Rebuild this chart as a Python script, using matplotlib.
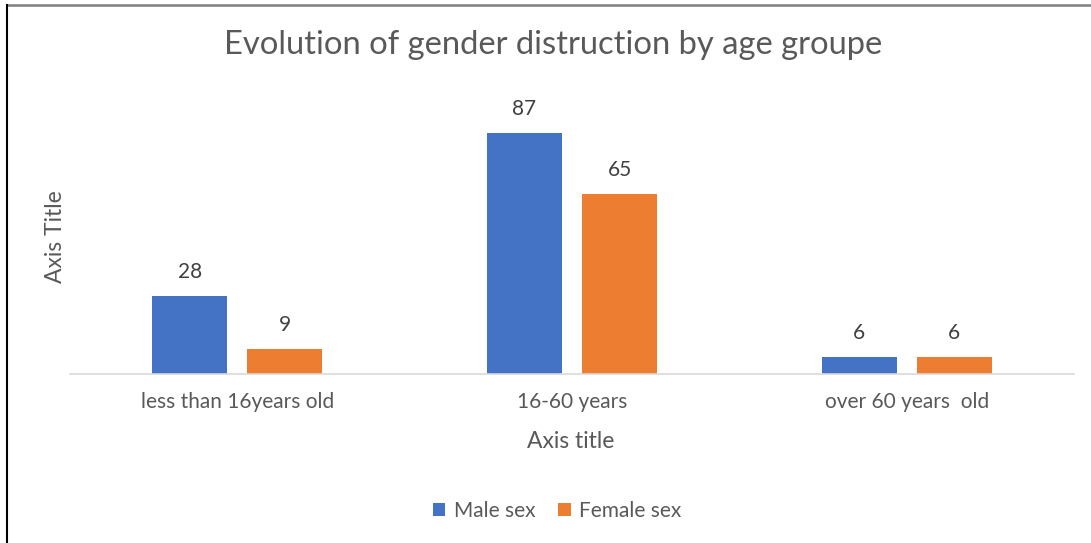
import matplotlib.pyplot as plt
import numpy as np
from matplotlib.lines import Line2D

# age groups and gender counts
categories = ['less than 16years old', '16-60 years', 'over 60 years  old']
male = [28, 87, 6]
female = [9, 65, 6]

plt.rcParams['font.family'] = ['Lato', 'DejaVu Sans']

fig = plt.figure(figsize=(10.91, 5.43), dpi=100)
ax = fig.add_axes([70/1091, 1-374/543, 1004/1091, 277/543])

x = np.arange(len(categories))
w = 0.224
b1 = ax.bar(x - 0.142, male, w, color='#4472C4', label='Male sex')
b2 = ax.bar(x + 0.142, female, w, color='#ED7D31', label='Female sex')

for bars in (b1, b2):
    for r in bars:
        ax.text(r.get_x() + r.get_width()/2, r.get_height() + 5.2, str(int(r.get_height())),
                ha='center', va='bottom', fontsize=15, color='#404040')

ax.set_xlim(-0.5, 2.5)
ax.set_ylim(0, 100)
ax.set_yticks([])
ax.set_xticks(x)
ax.set_xticklabels(categories, fontsize=15, color='#595959')
ax.tick_params(axis='x', length=0, pad=13)
for s in ['top', 'right', 'left']:
    ax.spines[s].set_visible(False)
ax.spines['bottom'].set_color('#d9d9d9')
ax.spines['bottom'].set_linewidth(1.2)

fig.text(553/1091, 1-45/543, 'Evolution of gender distruction by age groupe',
         ha='center', va='center', fontsize=23.6, color='#595959')
fig.text(571/1091, 1-441/543, 'Axis title', ha='center', va='center', fontsize=16.5, color='#595959')
fig.text(55/1091, 1-237/543, 'Axis Title', ha='center', va='center', rotation=90,
         fontsize=16.5, color='#595959')

leg = fig.legend(handles=[b1, b2], loc='center', bbox_to_anchor=(557/1091, 1-511/543), ncol=2,
                 frameon=False, fontsize=15, handlelength=0.6, handleheight=0.6,
                 columnspacing=1.1, handletextpad=0.4)
for t in leg.get_texts():
    t.set_color('#595959')

# chart frame (top and left edges visible)
fig.add_artist(Line2D([7/1091, 1], [1-4.5/543]*2, color='#7f7f7f', lw=1.8))
fig.add_artist(Line2D([7/1091]*2, [0, 1-4.5/543], color='black', lw=1.5))

plt.savefig('out.png', dpi=100)
